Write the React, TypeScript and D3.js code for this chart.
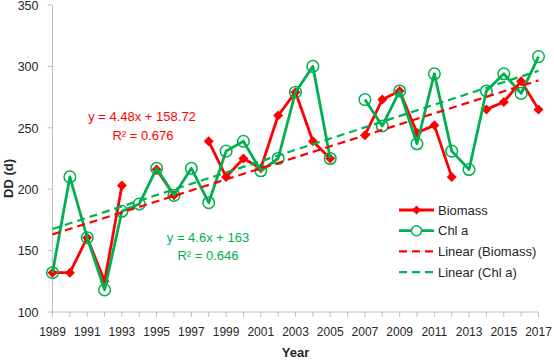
import React from 'react';
import * as d3 from 'd3';

// values
const years = [1989, 1990, 1991, 1992, 1993, 1994, 1995, 1996, 1997, 1998, 1999, 2000, 2001, 2002, 2003,
  2004, 2005, 2006, 2007, 2008, 2009, 2010, 2011, 2012, 2013, 2014, 2015, 2016, 2017];
const biomass = [132, 132, 160.5, 125, 203, null, 216, 195, null, 239, 210, 225, 217, 260, 279,
  239, 225, null, 244, 273, 280, 246, 252, 210, null, 265, 271, 288, 265];
const chla = [132, 210, 160.5, 118, 182, 188, 217, 195, 217, 189, 231, 239, 215, 225, 279,
  300, 225, null, 273, 251.5, 280, 237, 294, 231, 216, 280, 294, 278, 308];
const yTicks = [100, 150, 200, 250, 300, 350];
const xTickLabels = [1989, 1991, 1993, 1995, 1997, 1999, 2001, 2003, 2005, 2007, 2009, 2011, 2013, 2015, 2017];
const legendLabels = ['Biomass', 'Chl a', 'Linear (Biomass)', 'Linear (Chl a)'];
// trend equations shown on the chart (x = 1 for 1989)
const trendBiomass = [4.48, 158.72];
const trendChla = [4.6, 163];

const RED = '#ff0000';
const GREEN = '#00b050';
const FONT = '"Liberation Sans", Arial, sans-serif';

export default function App() {
  const width = 554, height = 361;
  const x = d3.scaleLinear().domain([1989, 2017]).range([52.5, 538.5]);
  const y = d3.scaleLinear().domain([100, 350]).range([312, 5]);

  const line = d3.line<number | null>()
    .defined(d => d !== null)
    .x((d, i) => x(years[i]))
    .y(d => y(d as number));

  const trend = (t: number[]) => {
    const x0 = years[0], x1 = years[years.length - 1];
    const v0 = t[0] * 1 + t[1];
    const v1 = t[0] * (x1 - x0 + 1) + t[1];
    return { x1: x(x0), y1: y(v0), x2: x(x1), y2: y(v1) };
  };
  const tb = trend(trendBiomass);
  const tc = trend(trendChla);

  const diamond = (cx: number, cy: number, r: number) =>
    `M${cx},${cy - r}L${cx + r},${cy}L${cx},${cy + r}L${cx - r},${cy}Z`;

  const axisColor = '#bfbfbf';
  const textColor = '#262626';

  return (
    <svg width={width} height={height} style={{ position: 'absolute', left: 0, top: 0, background: '#fff' }}
      fontFamily={FONT}>
      {/* axes */}
      <line x1={x(1989)} x2={x(1989)} y1={y(350)} y2={y(100)} stroke={axisColor} strokeWidth={1} />
      <line x1={x(1989)} x2={x(2017)} y1={y(100)} y2={y(100)} stroke={axisColor} strokeWidth={1} />
      {yTicks.map(t => (
        <g key={t}>
          <line x1={x(1989) - 5} x2={x(1989)} y1={y(t)} y2={y(t)} stroke={axisColor} />
          <text x={x(1989) - 14} y={y(t)} dy="0.38em" textAnchor="end" fontSize={12.5} fill={textColor}>{t}</text>
        </g>
      ))}
      {years.map(yr => (
        <line key={yr} x1={x(yr)} x2={x(yr)} y1={y(100)} y2={y(100) + 5} stroke={axisColor} />
      ))}
      {xTickLabels.map(yr => (
        <text key={yr} x={x(yr)} y={y(100) + 24} textAnchor="middle" fontSize={12} fill={textColor}>{yr}</text>
      ))}
      <text x={(x(1989) + x(2017)) / 2} y={357} textAnchor="middle" fontSize={13} fontWeight="bold" fill={textColor}>Year</text>
      <text transform={`translate(13,${(y(100) + y(350)) / 2 + 20}) rotate(-90)`} textAnchor="middle" fontSize={13}
        fontWeight="bold" fill={textColor}>DD (d)</text>

      {/* Biomass series */}
      <path d={line(biomass) || ''} fill="none" stroke={RED} strokeWidth={2.8} strokeLinejoin="round" />
      {biomass.map((v, i) => v === null ? null : (
        <path key={i} d={diamond(x(years[i]), y(v), 5)} fill={RED} />
      ))}
      {/* Chl a series */}
      <path d={line(chla) || ''} fill="none" stroke={GREEN} strokeWidth={2.8} strokeLinejoin="round" />
      {chla.map((v, i) => v === null ? null : (
        <circle key={i} cx={x(years[i])} cy={y(v)} r={5.8} fill="none" stroke={GREEN} strokeWidth={1.5} />
      ))}

      {/* trend lines */}
      <line {...tb} stroke={RED} strokeWidth={2.2} strokeDasharray="8,5" />
      <line {...tc} stroke={GREEN} strokeWidth={2.2} strokeDasharray="8,5" />

      {/* equations */}
      <text x={142} y={121} textAnchor="middle" fontSize={13} fill={RED}>y = 4.48x + 158.72</text>
      <text x={143} y={140} textAnchor="middle" fontSize={13} fill={RED}>R² = 0.676</text>
      <text x={208} y={242} textAnchor="middle" fontSize={13} fill={GREEN}>y = 4.6x + 163</text>
      <text x={208} y={260} textAnchor="middle" fontSize={13} fill={GREEN}>R² = 0.646</text>

      {/* legend */}
      {legendLabels.map((lab, i) => {
        const ly = 210 + i * 20.7;
        const col = i % 2 === 0 ? RED : GREEN;
        return (
          <g key={lab}>
            <line x1={399} x2={434} y1={ly} y2={ly} stroke={col} strokeWidth={i < 2 ? 2.8 : 2.2}
              strokeDasharray={i < 2 ? undefined : '8,5'} />
            {i === 0 && <path d={diamond(416.5, ly, 4.5)} fill={RED} />}
            {i === 1 && <circle cx={416.5} cy={ly} r={5} fill="#fff" stroke={GREEN} strokeWidth={1.5} />}
            <text x={438} y={ly} dy="0.35em" fontSize={13} fill={textColor}>{lab}</text>
          </g>
        );
      })}
    </svg>
  );
}
